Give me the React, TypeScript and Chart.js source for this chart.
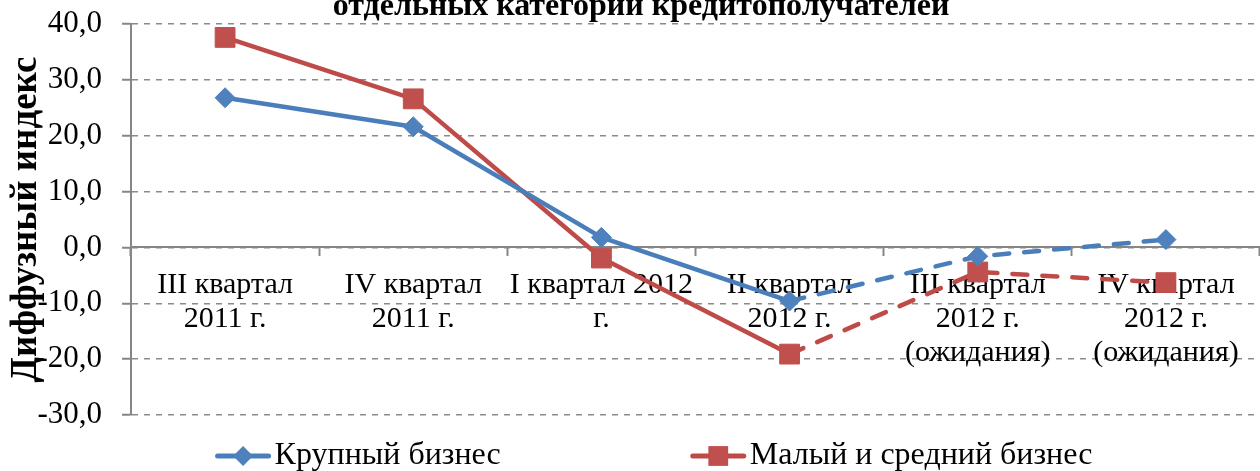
import React, { useEffect, useRef } from 'react';
import { Chart, registerables } from 'chart.js';

Chart.register(...registerables);

// ---- data ----
const categories: string[][] = [
  ['III квартал', '2011 г.'],
  ['IV квартал', '2011 г.'],
  ['I квартал 2012', 'г.'],
  ['II квартал', '2012 г.'],
  ['III квартал', '2012 г.', '(ожидания)'],
  ['IV квартал', '2012 г.', '(ожидания)'],
];
const largeBusiness: number[] = [26.8, 21.6, 1.8, -9.6, -1.6, 1.4];
const smallMediumBusiness: number[] = [37.6, 26.6, -1.9, -19.1, -4.4, -6.3];
const seriesNames: string[] = ['Крупный бизнес', 'Малый и средний бизнес'];
const yTickValues: number[] = [-30, -20, -10, 0, 10, 20, 30, 40];
const lastActualIndex = 3; // after this point values are expectations (dashed)
const titleText = 'отдельных категорий кредитополучателей';
const yAxisTitle = 'Диффузный индекс';

// ---- styles ----
const FONT = '"Liberation Serif", "Times New Roman", serif';
const BLUE = '#4A7EBB';
const BLUE_M = '#4F81BD';
const RED = '#BE4B48';
const RED_M = '#C0504D';
const GRID = '#8a8a8a';
const AXIS = '#868686';

function drawMarker(ctx: CanvasRenderingContext2D, style: string, x: number, y: number, r: number, color: string) {
  ctx.save();
  ctx.fillStyle = color;
  ctx.beginPath();
  if (style === 'rectRot') {
    ctx.moveTo(x - r, y);
    ctx.lineTo(x, y - r);
    ctx.lineTo(x + r, y);
    ctx.lineTo(x, y + r);
    ctx.closePath();
  } else {
    const s = r * Math.SQRT1_2;
    ctx.rect(x - s, y - s, 2 * s, 2 * s);
  }
  ctx.fill();
  ctx.restore();
}

const titlePlugin = {
  id: 'cutTitle',
  afterDraw(chart: any) {
    const ctx = chart.ctx as CanvasRenderingContext2D;
    ctx.save();
    ctx.font = `bold 32px ${FONT}`;
    ctx.fillStyle = '#000';
    ctx.textAlign = 'center';
    ctx.textBaseline = 'alphabetic';
    ctx.fillText(titleText, chart.width / 2 + 11, 15);
    ctx.restore();
  },
};

const legendPlugin = {
  id: 'lineLegend',
  afterDraw(chart: any) {
    const ctx = chart.ctx as CanvasRenderingContext2D;
    ctx.save();
    ctx.font = `32px ${FONT}`;
    const symW = 55;
    const gap = 4;
    const itemGap = 190;
    const items = chart.data.datasets.map((ds: any) => ({ ds, w: ctx.measureText(ds.label).width }));
    const total =
      items.reduce((a: number, it: any) => a + symW + gap + it.w, 0) + itemGap * (items.length - 1);
    let x = chart.width / 2 + 24 - total / 2;
    const y = chart.height - 15;
    items.forEach(({ ds, w }: any) => {
      ctx.strokeStyle = ds.borderColor;
      ctx.lineWidth = 5;
      ctx.lineCap = 'round';
      ctx.beginPath();
      ctx.moveTo(x + 2, y);
      ctx.lineTo(x + symW - 2, y);
      ctx.stroke();
      drawMarker(ctx, ds.pointStyle, x + symW / 2, y, ds.pointRadius, ds.pointBackgroundColor);
      ctx.fillStyle = '#000';
      ctx.textBaseline = 'middle';
      ctx.textAlign = 'left';
      ctx.fillText(ds.label, x + symW + gap, y);
      x += symW + gap + w + itemGap;
    });
    ctx.restore();
  },
};

const dashed = (c: any) => (c.p0DataIndex >= lastActualIndex ? [15, 15] : undefined);

export default function App() {
  const ref = useRef<HTMLCanvasElement | null>(null);

  useEffect(() => {
    if (!ref.current) return;
    const chart = new Chart(ref.current, {
      type: 'line',
      data: {
        labels: categories,
        datasets: [
          {
            label: seriesNames[0],
            data: largeBusiness,
            borderColor: BLUE,
            backgroundColor: BLUE_M,
            borderWidth: 4.5,
            borderCapStyle: 'round',
            borderJoinStyle: 'round',
            pointStyle: 'rectRot',
            pointRadius: 10,
            pointBackgroundColor: BLUE_M,
            pointBorderColor: BLUE_M,
            pointBorderWidth: 1,
            segment: { borderDash: dashed },
            tension: 0,
          } as any,
          {
            label: seriesNames[1],
            data: smallMediumBusiness,
            borderColor: RED,
            backgroundColor: RED_M,
            borderWidth: 4.5,
            borderCapStyle: 'round',
            borderJoinStyle: 'round',
            pointStyle: 'rect',
            pointRadius: 14,
            pointBackgroundColor: RED_M,
            pointBorderColor: RED_M,
            pointBorderWidth: 1,
            segment: { borderDash: dashed },
            tension: 0,
          } as any,
        ],
      },
      options: {
        animation: false,
        responsive: true,
        maintainAspectRatio: false,
        layout: { autoPadding: false, padding: { top: 24, bottom: 56, left: 0, right: 0 } },
        plugins: {
          legend: { display: false },
          title: { display: false },
          tooltip: { enabled: false },
        },
        scales: {
          x: {
            type: 'category',
            position: { y: 0 } as any,
            offset: true,
            afterFit: (s: any) => {
              s.paddingLeft = 0;
              s.paddingRight = 0;
              s.paddingTop = 0;
              s.paddingBottom = 0;
            },
            grid: {
              display: true,
              offset: true,
              drawOnChartArea: false,
              drawTicks: true,
              tickLength: 8,
              tickColor: AXIS,
              tickWidth: 2,
            },
            border: { display: true, color: AXIS, width: 2 },
            ticks: {
              color: '#000',
              font: { family: FONT, size: 30, lineHeight: '34px' as any },
              padding: 13,
              maxRotation: 0,
              autoSkip: false,
            },
          },
          y: {
            type: 'linear',
            min: -30,
            max: 40,
            afterBuildTicks: (s: any) => {
              s.ticks = yTickValues.map((v) => ({ value: v }));
            },
            afterFit: (s: any) => {
              s.width = 131;
              s.paddingTop = 0;
              s.paddingBottom = 0;
            },
            grid: {
              color: GRID,
              lineWidth: 1.5,
              drawTicks: true,
              tickLength: 9,
              tickColor: AXIS,
              tickWidth: 2,
            },
            border: { display: true, color: AXIS, width: 2, dash: [6, 6] },
            ticks: {
              color: '#000',
              font: { family: FONT, size: 31 },
              padding: 20,
              callback: (v: any) => Number(v).toFixed(1).replace('.', ','),
            },
            title: {
              display: true,
              text: yAxisTitle,
              color: '#000',
              font: { family: FONT, size: 37, weight: 'bold' },
              padding: { top: 4, bottom: 0 },
            },
          },
        },
      },
      plugins: [titlePlugin, legendPlugin],
    });
    return () => chart.destroy();
  }, []);

  return (
    <div style={{ position: 'fixed', left: 0, top: 0, width: 1260, height: 471, background: '#fff' }}>
      <canvas ref={ref} />
    </div>
  );
}
